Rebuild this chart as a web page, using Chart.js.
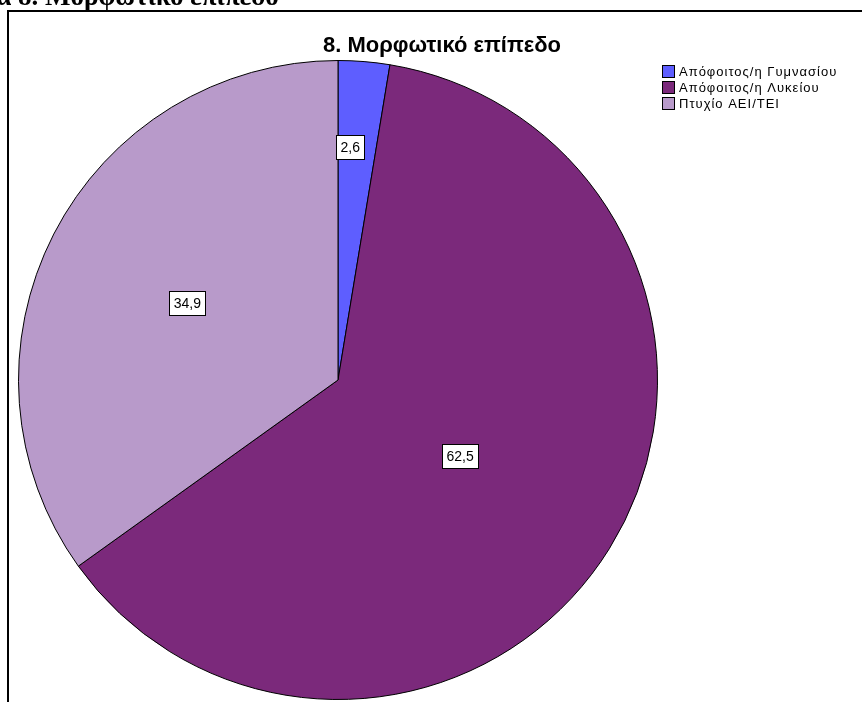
<!DOCTYPE html>
<html>
<head>
<meta charset="utf-8">
<script src="https://cdn.jsdelivr.net/npm/chart.js@4.4.1/dist/chart.umd.min.js"></script>
<style>
  html, body { margin: 0; padding: 0; background: #fff; overflow: hidden; }
  #wrap { position: relative; width: 862px; height: 702px; }
  #frame { position: absolute; left: 7px; top: 10px; width: 900px; height: 800px;
           border-left: 2px solid #000; border-top: 2px solid #000; }
  canvas { position: absolute; left: 0; top: 0; }
</style>
</head>
<body>
<div id="wrap">
  <div id="frame"></div>
  <canvas id="pieChart" width="862" height="702"></canvas>
</div>
<script>
// chart data
const categories = ['Απόφοιτος/η Γυμνασίου', 'Απόφοιτος/η Λυκείου', 'Πτυχίο ΑΕΙ/ΤΕΙ'];
const percentages = [2.6, 62.5, 34.9];
const sliceColors = ['#5e5eff', '#7b297b', '#b89aca'];
const chartTitle = '8. Μορφωτικό επίπεδο';
const pageHeading = 'Γράφημα 8. Μορφωτικό επίπεδο';

document.addEventListener('DOMContentLoaded', function() {
    // where each value label sits: fraction of radius, fraction of the slice angle
    const labelRadius = [0.73, 0.45, 0.53];
    const labelAngle = [0.32, 0.5, 0.5];

    const decorPlugin = {
        id: 'decor',
        afterDraw(chart) {
            const ctx = chart.ctx;
            ctx.save();

            // heading of the page, cut off at the top
            ctx.fillStyle = '#000';
            ctx.font = 'bold 27px "Liberation Serif", "DejaVu Serif", serif';
            ctx.textBaseline = 'alphabetic';
            ctx.textAlign = 'left';
            const pre = ctx.measureText('Γράφημα ').width;
            ctx.fillText(pageHeading, 18 - pre, 5);

            // chart title
            ctx.font = 'bold 22px "Liberation Sans", Arial, sans-serif';
            ctx.textAlign = 'center';
            ctx.fillText(chartTitle, 442, 52);

            // legend
            ctx.font = '13px "Liberation Sans", Arial, sans-serif';
            ctx.letterSpacing = '1px';
            ctx.textAlign = 'left';
            ctx.textBaseline = 'middle';
            categories.forEach((name, i) => {
                const y = 65 + i * 16;
                ctx.fillStyle = sliceColors[i];
                ctx.fillRect(662.5, y + 0.5, 12, 12);
                ctx.strokeStyle = '#000';
                ctx.lineWidth = 1;
                ctx.strokeRect(662.5, y + 0.5, 12, 12);
                ctx.fillStyle = '#000';
                ctx.fillText(name, 679, y + 7);
            });
            ctx.letterSpacing = '0px';

            // value labels in white boxes
            const meta = chart.getDatasetMeta(0);
            ctx.font = '14px "Liberation Sans", Arial, sans-serif';
            ctx.textAlign = 'center';
            meta.data.forEach((arc, i) => {
                const p = arc.getProps(['x', 'y', 'startAngle', 'endAngle', 'outerRadius'], true);
                const ang = p.startAngle + (p.endAngle - p.startAngle) * labelAngle[i];
                const r = p.outerRadius * labelRadius[i];
                const cx = p.x + Math.cos(ang) * r;
                const cy = p.y + Math.sin(ang) * r;
                const txt = percentages[i].toFixed(1).replace('.', ',');
                const w = Math.round(ctx.measureText(txt).width + 9);
                const h = 24;
                const bx = Math.round(cx - w / 2) + 0.5;
                const by = Math.round(cy - h / 2) + 0.5;
                ctx.fillStyle = '#fff';
                ctx.fillRect(bx, by, w, h);
                ctx.strokeStyle = '#000';
                ctx.strokeRect(bx, by, w, h);
                ctx.fillStyle = '#000';
                ctx.fillText(txt, cx, cy + 1);
            });

            ctx.restore();
        }
    };

    const ctx = document.getElementById('pieChart').getContext('2d');
    new Chart(ctx, {
        type: 'pie',
        data: {
            labels: categories,
            datasets: [{
                data: percentages,
                backgroundColor: sliceColors,
                borderColor: '#000',
                borderWidth: 1
            }]
        },
        options: {
            responsive: false,
            animation: false,
            layout: { padding: { left: 18, right: 204, top: 60, bottom: 2 } },
            plugins: {
                legend: { display: false },
                tooltip: { enabled: false },
                title: { display: false }
            }
        },
        plugins: [decorPlugin]
    });
});
</script>
</body>
</html>
